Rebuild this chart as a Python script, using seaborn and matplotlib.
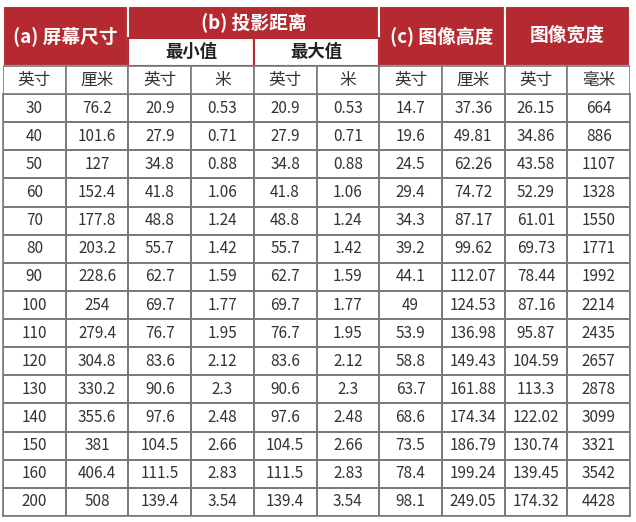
import numpy as np
import pandas as pd
import matplotlib
matplotlib.use('Agg')
import matplotlib.pyplot as plt
from matplotlib.colors import ListedColormap
from matplotlib.patches import Rectangle
import seaborn as sns

sns.set_theme(style='white')
plt.rcParams['font.family'] = ['Noto Sans CJK SC', 'DejaVu Sans']

# Données du tableau
screen_in = ["30", "40", "50", "60", "70", "80", "90", "100", "110", "120", "130", "140", "150", "160", "200"]
screen_cm = ["76.2", "101.6", "127", "152.4", "177.8", "203.2", "228.6", "254", "279.4", "304.8", "330.2", "355.6", "381", "406.4", "508"]
min_in = ["20.9", "27.9", "34.8", "41.8", "48.8", "55.7", "62.7", "69.7", "76.7", "83.6", "90.6", "97.6", "104.5", "111.5", "139.4"]
min_m = ["0.53", "0.71", "0.88", "1.06", "1.24", "1.42", "1.59", "1.77", "1.95", "2.12", "2.3", "2.48", "2.66", "2.83", "3.54"]
max_in = list(min_in)
max_m = list(min_m)
height_in = ["14.7", "19.6", "24.5", "29.4", "34.3", "39.2", "44.1", "49", "53.9", "58.8", "63.7", "68.6", "73.5", "78.4", "98.1"]
height_cm = ["37.36", "49.81", "62.26", "74.72", "87.17", "99.62", "112.07", "124.53", "136.98", "149.43", "161.88", "174.34", "186.79", "199.24", "249.05"]
width_in = ["26.15", "34.86", "43.58", "52.29", "61.01", "69.73", "78.44", "87.16", "95.87", "104.59", "113.3", "122.02", "130.74", "139.45", "174.32"]
width_mm = ["664", "886", "1107", "1328", "1550", "1771", "1992", "2214", "2435", "2657", "2878", "3099", "3321", "3542", "4428"]

units = ["英寸", "厘米", "英寸", "米", "英寸", "米", "英寸", "厘米", "英寸", "毫米"]
groups = [("(a) 屏幕尺寸", 0, 2), ("(b) 投影距离", 2, 6), ("(c) 图像高度", 6, 8), ("图像宽度", 8, 10)]
subgroups = [("最小值", 2, 4), ("最大值", 4, 6)]

RED = '#B52A30'
LINE = '#7a7a7a'
W, H = 636, 522
x0, x1 = 3, 630
y_top, y_sub, y_unit, y_body, y_end = 6, 38, 66, 94, 516

cols = [screen_in, screen_cm, min_in, min_m, max_in, max_m, height_in, height_cm, width_in, width_mm]
annot = np.array(cols).T
df = pd.DataFrame(np.zeros(annot.shape))

fig = plt.figure(figsize=(W / 100, H / 100), dpi=100)
fig.patch.set_facecolor('white')

# Corps du tableau : heatmap seaborn
ax_body = fig.add_axes([x0 / W, 1 - y_end / H, (x1 - x0) / W, (y_end - y_body) / H])
sns.heatmap(df, ax=ax_body, cmap=ListedColormap(['white']), cbar=False,
            annot=annot, fmt='', linewidths=1.2, linecolor=LINE,
            annot_kws={'fontsize': 11, 'color': '#333333'})
ax_body.set_xticks([])
ax_body.set_yticks([])
for s in ax_body.spines.values():
    s.set_visible(True)
    s.set_color(LINE)
    s.set_linewidth(1.2)

# En-tête
ax_h = fig.add_axes([x0 / W, 1 - y_body / H, (x1 - x0) / W, (y_body - y_top) / H])
ax_h.set_xlim(0, 10)
ax_h.set_ylim(y_body, y_top)
ax_h.axis('off')
for label, a, b in groups:
    ax_h.add_patch(Rectangle((a, y_top), b - a, y_unit - y_top, facecolor=RED,
                             edgecolor='white', linewidth=1.5))
    ty = (y_top + y_sub) / 2 if a == 2 else (y_top + y_unit) / 2
    ax_h.text((a + b) / 2, ty, label, ha='center', va='center', color='white',
              fontsize=13.5, fontweight='bold')
for label, a, b in subgroups:
    ax_h.add_patch(Rectangle((a, y_sub), b - a, y_unit - y_sub, facecolor='white',
                             edgecolor=RED, linewidth=1.5))
    ax_h.text((a + b) / 2, (y_sub + y_unit) / 2, label, ha='center', va='center',
              color='#222222', fontsize=12.5, fontweight='bold')
for i, u in enumerate(units):
    ax_h.add_patch(Rectangle((i, y_unit), 1, y_body - y_unit, facecolor='white',
                             edgecolor=LINE, linewidth=1.2))
    ax_h.text(i + 0.5, (y_unit + y_body) / 2, u, ha='center', va='center',
              color='#333333', fontsize=12)

fig.savefig('out.png', dpi=100)
